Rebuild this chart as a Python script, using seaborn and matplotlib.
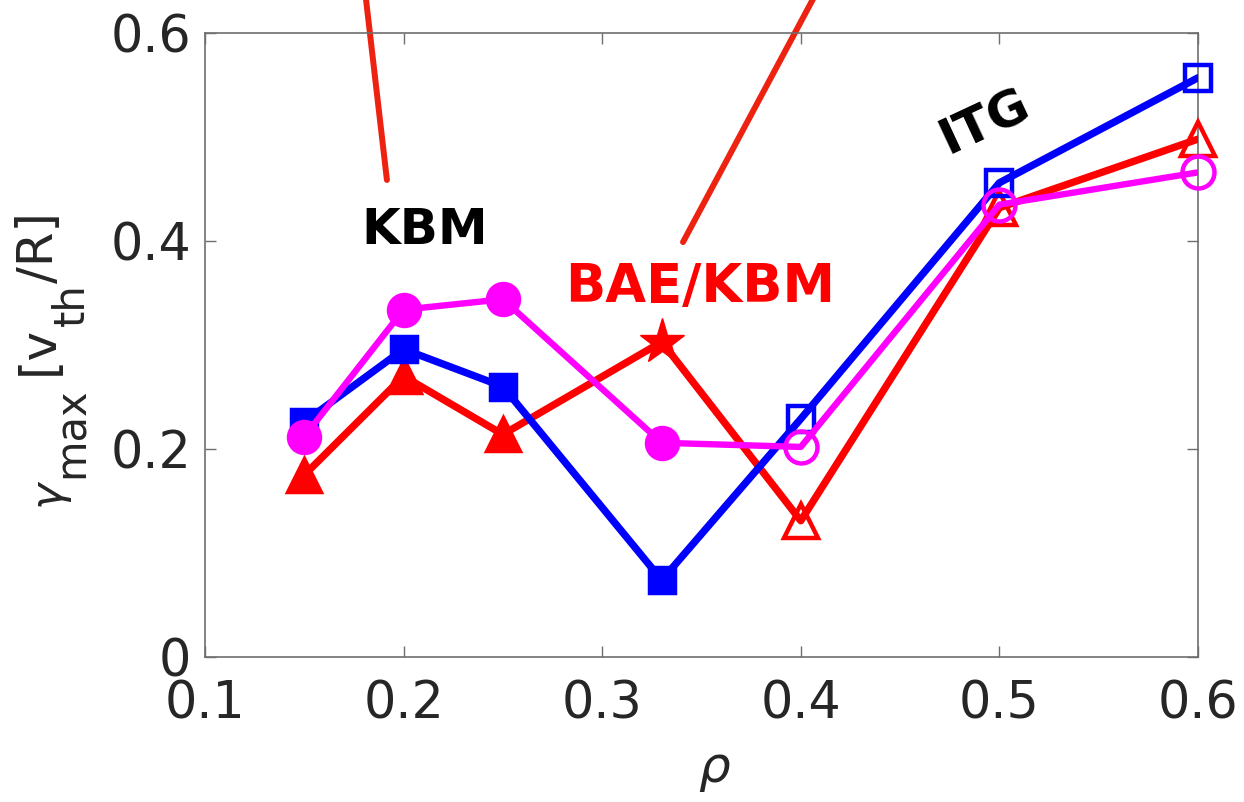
import numpy as np
import pandas as pd
import matplotlib
matplotlib.use("Agg")
import matplotlib.pyplot as plt
import seaborn as sns

# ---- data ----
rho = [0.15, 0.20, 0.25, 0.33, 0.40, 0.50, 0.60]
gamma_blue = [0.226, 0.296, 0.260, 0.074, 0.229, 0.456, 0.557]
gamma_red = [0.175, 0.270, 0.214, 0.303, 0.131, 0.432, 0.498]
gamma_magenta = [0.212, 0.334, 0.344, 0.206, 0.202, 0.435, 0.466]
# marker kind per point
kind_blue = ["filled", "filled", "filled", "filled", "open", "open", "open"]
kind_red = ["filled", "filled", "filled", "star", "open", "open", "open"]
kind_magenta = ["filled", "filled", "filled", "filled", "open", "open", "open"]

xticks = [0.1, 0.2, 0.3, 0.4, 0.5, 0.6]
yticks = [0, 0.2, 0.4, 0.6]

# annotation pointer lines (data coords)
ptr1_x = [0.1800, 0.1916]
ptr1_y = [0.6500, 0.4587]
ptr2_x = [0.4110, 0.3407]
ptr2_y = [0.6500, 0.3990]

labels = ["KBM", "BAE/KBM", "ITG"]
label_x = [0.2108, 0.3492, 0.4927]
label_y = [0.4106, 0.3558, 0.5140]

sns.set_style("ticks")
plt.rcParams["font.family"] = ["DejaVu Sans"]
plt.rcParams["mathtext.fontset"] = "dejavusans"

W, H = 1244, 802
fig = plt.figure(figsize=(W / 100, H / 100), dpi=100)
ax = fig.add_axes([0.1648, 0.1808, 0.7982, 0.778])

df = pd.DataFrame({"rho": rho, "blue": gamma_blue, "red": gamma_red,
                   "magenta": gamma_magenta})

series = [
    ("red", "#FF0000", kind_red, "^", 25, 5.3),
    ("blue", "#0000FF", kind_blue, "s", 19, 5.3),
    ("magenta", "#FF00FF", kind_magenta, "o", 23, 4.6),
]

z = 3
for name, col, kinds, mk, ms, lw in series:
    sns.lineplot(data=df, x="rho", y=name, ax=ax, color=col, lw=lw,
                 sort=False, estimator=None, zorder=z)
    kinds = np.array(kinds)
    xs = df["rho"].values
    ys = df[name].values
    m = kinds == "filled"
    ax.plot(xs[m], ys[m], ls="none", marker=mk, ms=ms, mfc=col, mec=col,
            mew=2.5, zorder=z + 0.5, clip_on=False)
    m = kinds == "open"
    ax.plot(xs[m], ys[m], ls="none", marker=mk, ms=ms, mfc="none", mec=col,
            mew=3.2, zorder=z + 0.5, clip_on=False)
    m = kinds == "star"
    ax.plot(xs[m], ys[m], ls="none", marker="*", ms=34, mfc=col, mec=col,
            mew=1, zorder=z + 0.5, clip_on=False)
    z += 1

# pointer lines extending above the axes
ax.plot(ptr1_x, ptr1_y, color="#EE2211", lw=4.3, clip_on=False, zorder=2)
ax.plot(ptr2_x, ptr2_y, color="#EE2211", lw=4.3, clip_on=False, zorder=2)

ax.text(label_x[0], label_y[0], labels[0], ha="center", va="center",
        fontsize=36, fontweight="bold", color="black")
ax.text(label_x[1], label_y[1], labels[1], ha="center", va="center",
        fontsize=38, fontweight="bold", color="#FF0000")
ax.text(label_x[2], label_y[2], labels[2], ha="center", va="center",
        fontsize=36, fontweight="bold", color="black", rotation=25)

ax.set_xlim(0.1, 0.6)
ax.set_ylim(0, 0.6)
ax.set_xticks(xticks)
ax.set_xticklabels([f"{v:g}" for v in xticks])
ax.set_yticks(yticks)
ax.set_yticklabels([f"{v:g}" for v in yticks])

for sp in ax.spines.values():
    sp.set_visible(True)
    sp.set_color("#6E6E6E")
    sp.set_linewidth(1.2)

ax.tick_params(direction="in", length=8, width=1.0, color="#6E6E6E",
               labelsize=36.5, labelcolor="#262626", top=True, right=True)
ax.tick_params(axis="x", pad=16)
ax.tick_params(axis="y", pad=10)

ax.set_xlabel(r"$\rho$", fontsize=36, color="#262626", labelpad=12)
ax.xaxis.label.set_x(0.513)
ax.set_ylabel("")

# y label built from pieces (MATLAB-style large subscripts), bottom to top
ylab_text = [r"$\gamma$", "max", "[v", "th", "/R]"]
ylab_size = [32, 30, 36, 30, 36]
ylab_base = [63, 84, 53, 84, 53]      # baseline x (pixels)
ylab_gap = [2, 12, 0, 0, 0]           # gap after piece (pixels)
renderer = fig.canvas.get_renderer()
ystart = 510  # pixel from top where label starts
for s, fs, bx, gap in zip(ylab_text, ylab_size, ylab_base, ylab_gap):
    t = fig.text(bx / W, 1 - ystart / H, s, rotation=90,
                 rotation_mode="anchor", ha="left", va="baseline",
                 fontsize=fs, color="#262626")
    bb = t.get_window_extent(renderer)
    ystart = H - bb.y1 - gap

fig.savefig("out.png", dpi=100)
